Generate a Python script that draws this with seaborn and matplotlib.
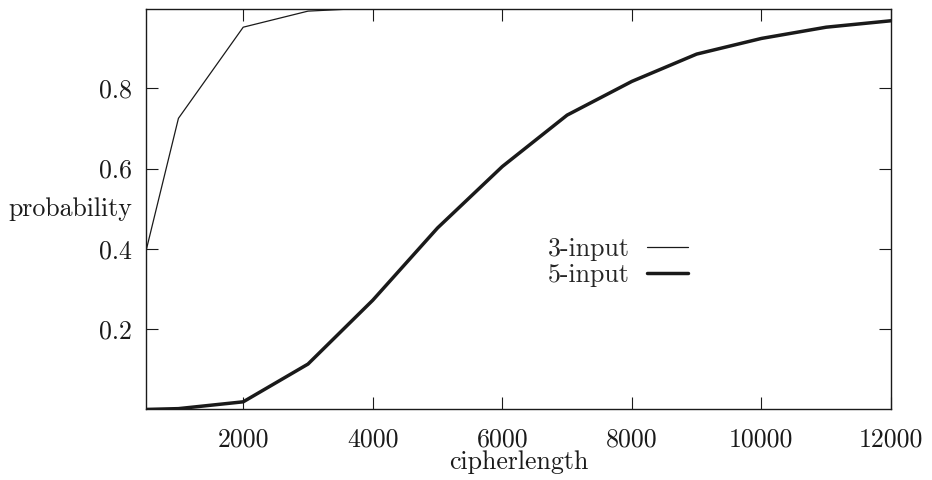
import pandas as pd
import numpy as np
import seaborn as sns
import matplotlib.pyplot as plt

# valors llegits del gràfic
lengths = [500, 1000, 2000, 3000, 4000, 5000, 6000, 7000, 8000, 9000, 10000, 11000, 12000]
prob_3 = [0.395, 0.725, 0.952, 0.992, 1.0, 1.0, 1.0, 1.0, 1.0, 1.0, 1.0, 1.0, 1.0]
prob_5 = [0.0, 0.002, 0.019, 0.113, 0.272, 0.452, 0.605, 0.733, 0.817, 0.885, 0.924, 0.952, 0.968]

x_ticks = [2000, 4000, 6000, 8000, 10000, 12000]
y_ticks = [0.2, 0.4, 0.6, 0.8]

sns.set_style("ticks")
plt.rcParams["font.family"] = ["cmr10", "DejaVu Serif"]
fs = 18.6
plt.rcParams["font.size"] = fs

fig = plt.figure(figsize=(9.32, 4.8), dpi=100)
ax = fig.add_axes([0.1567, 0.147, 0.7993, 0.834])

df = pd.DataFrame({"len": lengths, "p3": prob_3, "p5": prob_5})
sns.lineplot(data=df, x="len", y="p3", ax=ax, color="#1a1a1a", linewidth=0.9, label="3-input")
sns.lineplot(data=df, x="len", y="p5", ax=ax, color="#1a1a1a", linewidth=2.5, label="5-input")

ax.set_xlim(500, 12000)
ax.set_ylim(0, 0.997)
ax.set_xticks(x_ticks, labels=[str(t) for t in x_ticks])
ax.set_yticks(y_ticks, labels=[f"{t:.1f}" for t in y_ticks])
ax.tick_params(direction="in", length=8.6, width=0.8, top=True, right=True,
               labelsize=fs, colors="#1a1a1a", pad=10)
ax.tick_params(axis="x", pad=13)
for s in ax.spines.values():
    s.set_linewidth(1.0)
    s.set_color("#1a1a1a")

ax.set_xlabel("cipherlength", fontsize=fs, color="#1a1a1a")
ax.xaxis.set_label_coords(0.5, -0.103)
ax.xaxis.label.set_va("top")
ax.set_ylabel("probability", fontsize=fs, color="#1a1a1a", rotation=0, ha="right", va="center")
ax.yaxis.set_label_coords(-0.018, 0.5)

ax.legend(loc="center right", bbox_to_anchor=(0.7275, 0.368), frameon=False,
          markerfirst=False, borderpad=0, borderaxespad=0, handlelength=1.6,
          handletextpad=0.66, labelspacing=0.1, fontsize=fs)

plt.savefig("out.png", dpi=100)
